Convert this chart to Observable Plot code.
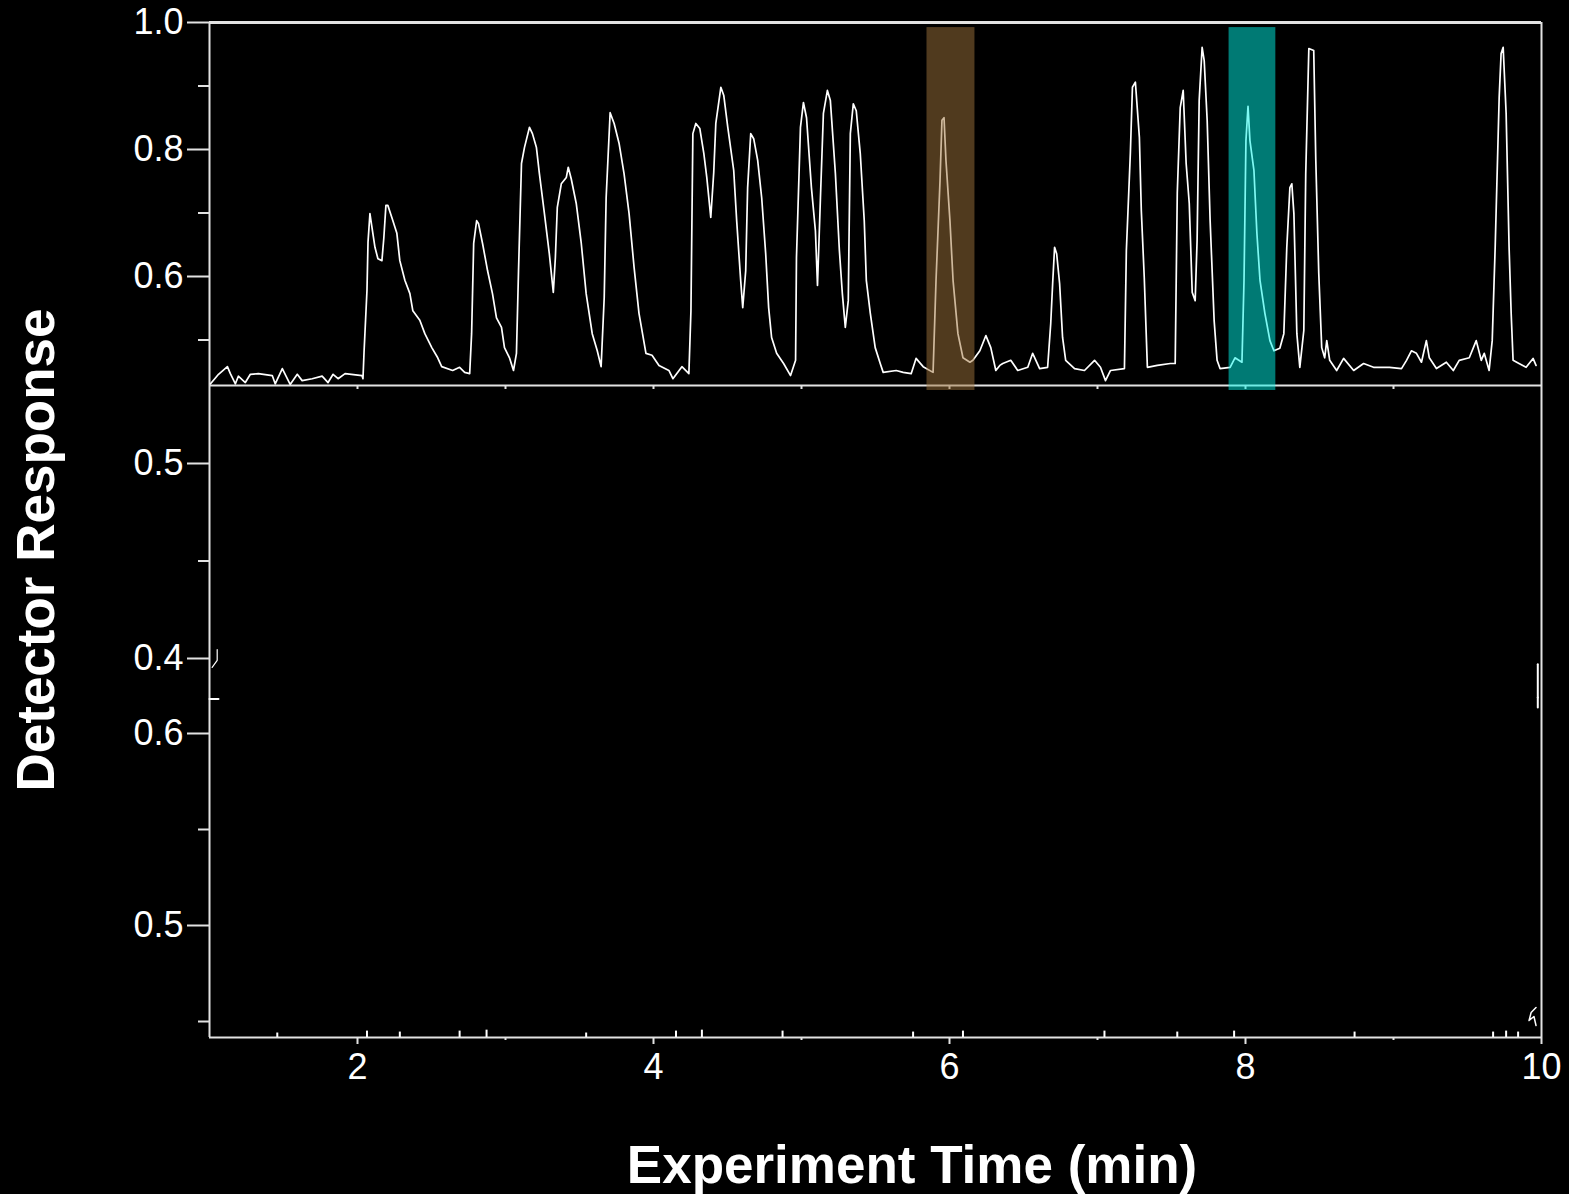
<!DOCTYPE html>
<html>
<head>
<meta charset="utf-8">
<script src="https://cdn.jsdelivr.net/npm/d3@7"></script>
<script src="https://cdn.jsdelivr.net/npm/@observablehq/plot@0.6"></script>
<style>
html, body { margin: 0; padding: 0; background: #000; }
#chart { position: relative; width: 1569px; height: 1194px; background: #000; overflow: hidden;
  font-family: "Liberation Sans", Arial, sans-serif; }
#chart svg { position: absolute; left: 0; overflow: visible; max-width: none; }
.title { position: absolute; color: #fff; font-weight: bold; font-size: 53px; line-height: 1;
  white-space: nowrap; font-family: "Liberation Sans", Arial, sans-serif; }
</style>
</head>
<body>
<div id="chart">
  <div class="title" id="ytitle" style="left:35px; top:550px; transform: translate(-50%,-50%) rotate(-90deg);">Detector Response</div>
  <div class="title" id="xtitle" style="left:912px; top:1164px; transform: translate(-50%,-50%);">Experiment Time (min)</div>
</div>
<script>
// ---------- DATA ----------
// Detector trace (top panel), time in minutes
const time = [
1.007,1.061,1.121,1.141,1.175,1.195,1.242,1.276,1.330,1.424,1.444,1.492,1.545,1.593,1.626,1.694,1.761,1.801,1.835,1.869,1.916,
2.030,2.037,2.044,2.064,2.071,2.084,2.098,2.118,2.138,2.165,2.178,2.192,2.205,2.232,2.266,2.286,2.320,2.354,2.374,2.421,2.455,
2.502,2.542,2.569,2.643,2.690,2.724,2.758,2.771,2.785,2.805,2.818,2.845,2.879,2.912,2.939,2.973,2.993,
3.027,3.054,3.074,3.088,3.108,3.128,3.162,3.182,3.209,3.229,3.263,3.296,3.323,3.337,3.350,3.377,3.411,3.424,3.444,3.478,
3.512,3.545,3.586,3.620,3.646,3.667,3.680,3.707,3.734,3.768,3.801,3.835,3.869,3.902,3.949,3.990,
4.037,4.104,4.131,4.192,4.239,4.253,4.266,4.286,4.313,4.340,4.360,4.387,4.407,4.421,4.455,4.475,4.502,4.542,4.562,4.589,
4.603,4.623,4.636,4.657,4.677,4.704,4.731,4.758,4.778,4.798,4.832,4.879,4.926,4.960,4.966,4.993,
5.013,5.034,5.067,5.094,5.108,5.128,5.148,5.175,5.195,5.229,5.256,5.276,5.296,5.316,5.330,5.350,5.370,5.397,5.424,5.438,
5.465,5.498,5.532,5.552,5.640,5.687,5.741,5.774,5.822,5.889,5.909,5.936,5.949,5.963,5.976,
6.003,6.024,6.057,6.091,6.138,6.158,6.205,6.246,6.279,6.313,6.340,6.360,6.414,6.461,6.529,6.562,6.609,6.663,6.684,6.697,
6.710,6.724,6.744,6.764,6.785,6.845,6.912,6.980,
7.020,7.054,7.088,7.182,7.195,7.222,7.236,7.256,7.283,7.296,7.316,7.337,7.404,7.492,7.525,7.539,7.559,7.579,7.599,7.620,
7.640,7.660,7.673,7.687,7.707,7.721,7.741,7.761,7.788,7.808,7.828,7.896,7.929,7.976,7.990,
8.003,8.017,8.030,8.057,8.077,8.098,8.131,8.165,8.192,8.232,8.259,8.279,8.300,8.313,8.327,8.347,8.367,8.394,8.407,8.428,
8.461,8.475,8.495,8.515,8.535,8.549,8.569,8.616,8.663,8.731,8.798,8.865,8.973,
9.054,9.088,9.121,9.155,9.189,9.222,9.242,9.290,9.357,9.404,9.444,9.512,9.559,9.593,9.613,9.646,9.667,9.687,9.714,9.727,
9.741,9.761,9.781,9.795,9.808,9.848,9.896,9.943,9.963
];
const response = [
0.431,0.446,0.458,0.447,0.431,0.443,0.433,0.446,0.447,0.444,0.431,0.455,0.430,0.446,0.436,0.439,0.443,0.433,0.446,0.439,0.447,
0.444,0.439,0.480,0.578,0.654,0.699,0.677,0.646,0.628,0.625,0.661,0.712,0.712,0.693,0.668,0.625,0.594,0.573,0.546,0.531,0.510,
0.488,0.472,0.458,0.452,0.457,0.449,0.447,0.510,0.652,0.688,0.683,0.652,0.609,0.573,0.535,0.520,0.488,
0.472,0.452,0.479,0.609,0.778,0.803,0.835,0.825,0.803,0.762,0.699,0.636,0.575,0.630,0.709,0.746,0.756,0.772,0.754,0.715,
0.652,0.573,0.510,0.483,0.458,0.567,0.724,0.858,0.841,0.809,0.762,0.699,0.614,0.542,0.479,0.476,
0.460,0.452,0.439,0.458,0.447,0.546,0.825,0.841,0.833,0.794,0.756,0.693,0.764,0.841,0.898,0.885,0.835,0.767,0.688,0.594,
0.551,0.609,0.740,0.825,0.817,0.783,0.724,0.636,0.551,0.504,0.479,0.463,0.444,0.468,0.630,0.835,
0.874,0.850,0.740,0.672,0.586,0.724,0.857,0.893,0.877,0.762,0.641,0.573,0.520,0.562,0.825,0.872,0.861,0.794,0.688,0.594,
0.542,0.488,0.463,0.449,0.452,0.449,0.447,0.471,0.458,0.449,0.594,0.751,0.846,0.850,0.783,
0.688,0.594,0.510,0.472,0.465,0.468,0.483,0.507,0.488,0.452,0.460,0.463,0.468,0.452,0.457,0.479,0.455,0.457,0.526,0.589,
0.646,0.636,0.589,0.504,0.468,0.455,0.452,0.468,
0.457,0.436,0.452,0.455,0.641,0.794,0.898,0.906,0.819,0.704,0.598,0.457,0.460,0.463,0.463,0.731,0.866,0.893,0.778,0.715,
0.575,0.562,0.657,0.877,0.961,0.940,0.846,0.688,0.531,0.468,0.455,0.457,0.472,0.465,0.594,
0.814,0.868,0.814,0.767,0.668,0.594,0.542,0.499,0.483,0.487,0.510,0.646,0.740,0.746,0.699,0.510,0.457,0.515,0.762,0.959,
0.956,0.783,0.605,0.488,0.472,0.499,0.468,0.452,0.471,0.452,0.463,0.457,0.457,
0.455,0.468,0.483,0.479,0.465,0.499,0.472,0.455,0.465,0.452,0.468,0.472,0.499,0.468,0.479,0.452,0.499,0.646,0.882,0.951,
0.961,0.857,0.646,0.542,0.468,0.463,0.457,0.471,0.460
];

// Highlighted peak windows
const highlightStart = [5.848, 7.889];
const highlightEnd   = [6.172, 8.205];
const highlightTop   = [0.992, 0.992];
const highlightBottom= [0.4205, 0.4205];
const highlightColor = ["#a0743c", "#00f4e8"];

// Scales / ticks
const xDomain = [1, 10];
const panel1Y = [0.42835, 1.0];
const panel2Y = [0.38, 0.54];
const panel3Y = [0.44167, 0.61875];
const topMajorTicks = [0.6, 0.8, 1.0];
const topMinorTicks = [0.5, 0.7, 0.9];
const midMajorTicks = [0.4, 0.5];
const midMinorTicks = [0.45];
const lowMajorTicks = [0.5, 0.6];
const lowMinorTicks = [0.45, 0.55];
const xTopTicks = [2, 3, 4, 5, 6, 7, 8, 9];
const xMajorTicks = [2, 4, 6, 8, 10];
const xMinorTicks = [3, 5, 7, 9];

// Fragments of the hidden lower traces that peek through
const midFragT = [1.052, 1.052, 1.018];
const midFragV = [0.4046, 0.399, 0.3954];
const midRightT = [9.975, 9.975];
const midRightV = [0.397, 0.380];
const lowNubT = [1.0, 1.061];
const lowNubV = [0.618, 0.618];
const lowRightT = [9.975, 9.975];
const lowRightV = [0.6188, 0.6136];
const lowSquigT = [9.963, 9.93, 9.916, 9.949, 9.963];
const lowSquigV = [0.4573, 0.4547, 0.4505, 0.4526, 0.4479];
const blipT = [1.458, 2.064, 2.286, 2.690, 2.872, 3.545, 4.152, 4.327, 4.872, 5.754, 6.091, 7.047, 7.539, 7.923, 8.737, 9.673, 9.761, 9.842];
const blipV = [0.4440, 0.4450, 0.4445, 0.4450, 0.4455, 0.4440, 0.4450, 0.4455, 0.4450, 0.4445, 0.4450, 0.4450, 0.4445, 0.4450, 0.4445, 0.4445, 0.4450, 0.4445];

// ---------- BUILD ----------
const trace = time.map((t, i) => ({t, v: response[i]}));
const highlights = highlightStart.map((s, i) => ({start: s, end: highlightEnd[i], top: highlightTop[i], bottom: highlightBottom[i], color: highlightColor[i]}));
const zipTV = (T, V) => T.map((t, i) => ({t, v: V[i]}));

const W = 1569, ML = 209, MR = 28;
const axisColor = "#e2e2e2";
const baseStyle = {background: "transparent", color: "#fff", fontFamily: "'Liberation Sans', Arial, sans-serif", fontSize: "36px", overflow: "visible", maxWidth: "none"};
const fmt = d3.format(".1f");

const majorY = (ticks) => Plot.axisY({ticks, tickSize: 22, tickPadding: 4, stroke: axisColor, strokeWidth: 2, fill: "#fff", fontSize: 36, tickFormat: fmt, label: null});
const minorY = (ticks) => Plot.axisY({ticks, tickSize: 11, stroke: axisColor, strokeWidth: 2, fill: "none", tickFormat: () => "", label: null});
const frameLR = () => [
  Plot.ruleX([xDomain[0]], {stroke: axisColor, strokeWidth: 2}),
  Plot.ruleX([xDomain[1]], {stroke: axisColor, strokeWidth: 2})
];

const p1 = Plot.plot({
  width: W, height: 400, marginTop: 22, marginBottom: 15, marginLeft: ML, marginRight: MR,
  x: {domain: xDomain, label: null},
  y: {domain: panel1Y, label: null},
  color: {type: "identity"},
  style: baseStyle,
  marks: [
    Plot.ruleY([panel1Y[1]], {stroke: axisColor, strokeWidth: 3}),
    Plot.ruleY([panel1Y[0]], {stroke: axisColor, strokeWidth: 2}),
    ...frameLR(),
    majorY(topMajorTicks),
    minorY(topMinorTicks),
    Plot.axisX({ticks: xTopTicks, tickSize: 4, stroke: axisColor, strokeWidth: 2, fill: "none", tickFormat: () => "", label: null}),
    Plot.line(trace, {x: "t", y: "v", stroke: "#ffffff", strokeWidth: 1.7}),
    Plot.rect(highlights, {x1: "start", x2: "end", y1: "bottom", y2: "top", fill: "color", fillOpacity: 0.5})
  ]
});

const p2 = Plot.plot({
  width: W, height: 312, marginTop: 0, marginBottom: 0, marginLeft: ML, marginRight: MR,
  x: {domain: xDomain, label: null, axis: null},
  y: {domain: panel2Y, label: null},
  style: baseStyle,
  marks: [
    ...frameLR(),
    majorY(midMajorTicks),
    minorY(midMinorTicks),
    Plot.line(zipTV(midFragT, midFragV), {x: "t", y: "v", stroke: "#fff", strokeWidth: 1.2}),
    Plot.line(zipTV(midRightT, midRightV), {x: "t", y: "v", stroke: "#fff", strokeWidth: 2})
  ]
});

const p3 = Plot.plot({
  width: W, height: 497, marginTop: 0, marginBottom: 157, marginLeft: ML, marginRight: MR,
  x: {domain: xDomain, label: null},
  y: {domain: panel3Y, label: null},
  style: baseStyle,
  marks: [
    ...frameLR(),
    Plot.ruleY([panel3Y[0]], {stroke: axisColor, strokeWidth: 2}),
    majorY(lowMajorTicks),
    minorY(lowMinorTicks),
    Plot.axisX({ticks: xMajorTicks, tickSize: 7, tickPadding: 9, stroke: axisColor, strokeWidth: 2, fill: "#fff", fontSize: 36, label: null}),
    Plot.axisX({ticks: xMinorTicks, tickSize: 3, stroke: axisColor, strokeWidth: 2, fill: "none", tickFormat: () => "", label: null}),
    Plot.ruleX(zipTV(blipT, blipV), {x: "t", y1: panel3Y[0], y2: "v", stroke: "#fff", strokeWidth: 2}),
    Plot.line(zipTV(lowNubT, lowNubV), {x: "t", y: "v", stroke: "#fff", strokeWidth: 2}),
    Plot.line(zipTV(lowRightT, lowRightV), {x: "t", y: "v", stroke: "#fff", strokeWidth: 2}),
    Plot.line(zipTV(lowSquigT, lowSquigV), {x: "t", y: "v", stroke: "#fff", strokeWidth: 1.5})
  ]
});

const chart = document.getElementById("chart");
[[p3, 697], [p2, 385], [p1, 0]].forEach(([svg, top]) => {
  svg.style.position = "absolute";
  svg.style.top = top + "px";
  svg.style.left = "0px";
  chart.appendChild(svg);
});
</script>
</body>
</html>
